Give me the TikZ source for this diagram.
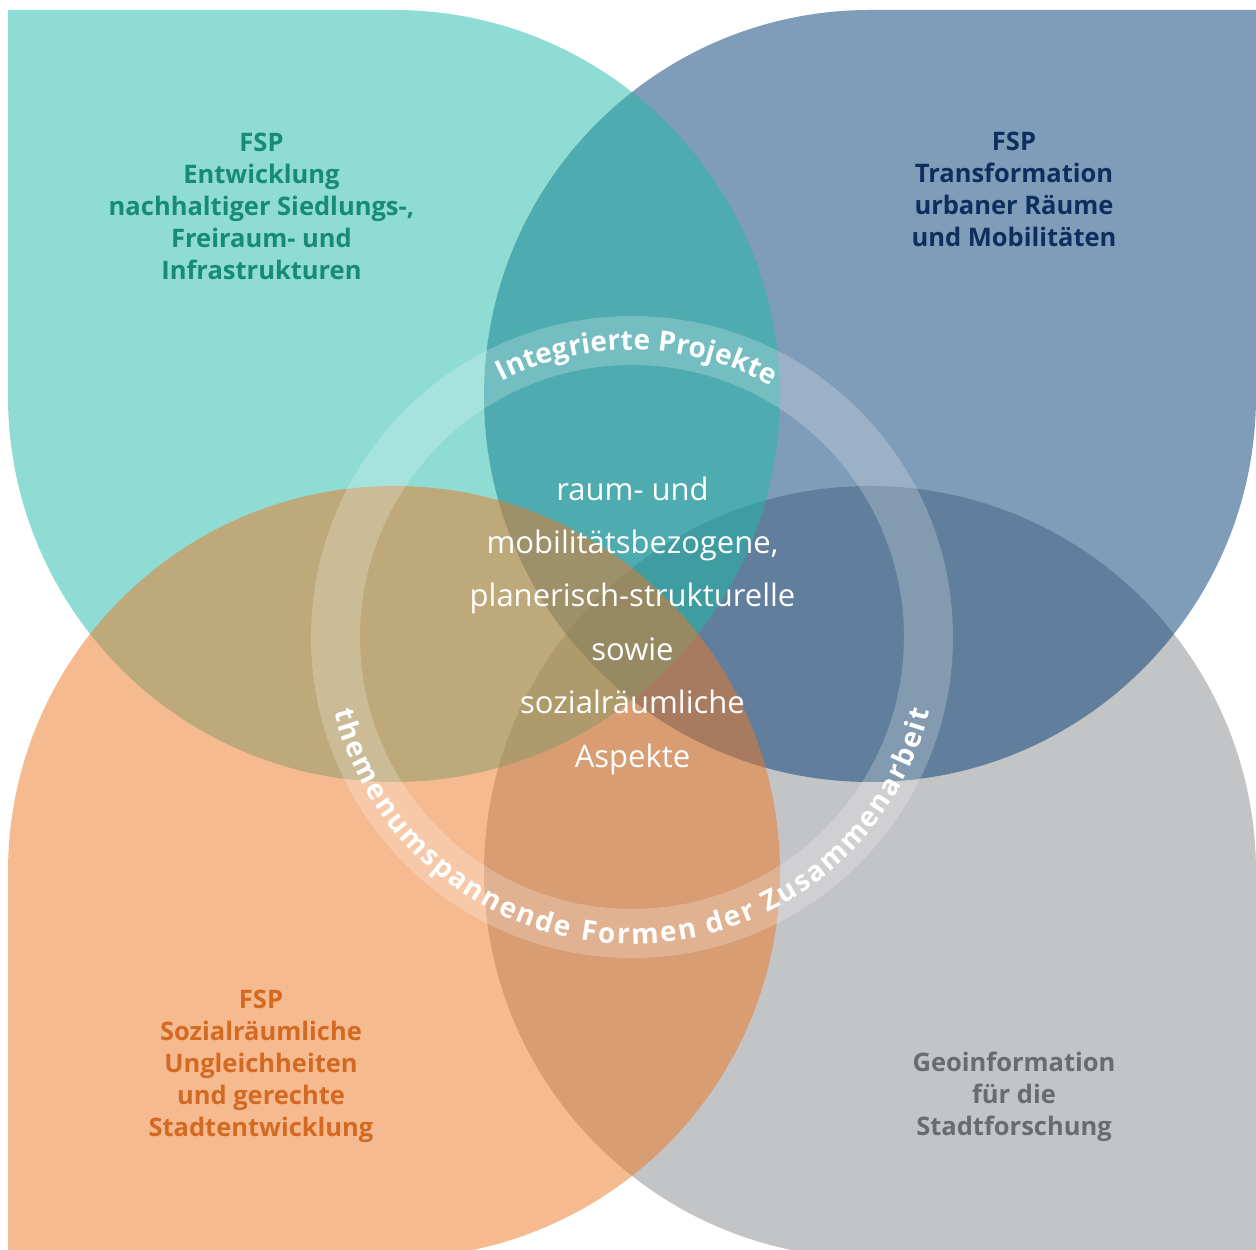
\documentclass[tikz,border=0pt]{standalone}
\usepackage{fontspec}
\setmainfont{Open Sans}
\usetikzlibrary{decorations.text}
\definecolor{tealbase}{RGB}{31,187,169}
\definecolor{bluebase}{RGB}{1,59,115}
\definecolor{orangebase}{RGB}{239,119,35}
\definecolor{graybase}{RGB}{137,139,143}
\definecolor{tealtext}{RGB}{24,138,120}
\definecolor{bluetext}{RGB}{14,46,94}
\definecolor{orangetext}{RGB}{212,106,34}
\definecolor{graytext}{RGB}{106,107,109}
\begin{document}
\begin{tikzpicture}[x=1pt,y=1pt,
  leaf/.style={fill opacity=0.5, draw=none},
  fsplabel/.style={align=center, font=\fontsize{25.5}{32}\selectfont\bfseries, inner sep=0pt},
  centertext/.style={align=center, text=white, font=\fontsize{31}{53.4}\selectfont, inner sep=0pt}]
\useasboundingbox (0,0) rectangle (1256,1250);
\fill[white] (0,0) rectangle (1256,1250);
\begin{scope}
\clip (0,0) rectangle (1256,1250);
% gray (bottom right)
\fill[leaf, fill=graybase] (1256,-8) -- (1256,378) arc[start angle=0, end angle=270, radius=386] -- cycle;
% blue (top right)
\fill[leaf, fill=bluebase] (1256,1240) -- (870,1240) arc[start angle=90, end angle=360, radius=386] -- cycle;
% teal (top left)
\fill[leaf, fill=tealbase] (8,1240) -- (394,1240) arc[start angle=90, end angle=-180, radius=386] -- cycle;
% orange (bottom left)
\fill[leaf, fill=orangebase] (8,-8) -- (8,378) arc[start angle=180, end angle=-90, radius=386] -- cycle;
\end{scope}
% ring
\coordinate (rc) at (632,613);
\fill[white, fill opacity=0.22, even odd rule] (rc) circle[radius=321] (rc) circle[radius=272];
% ring texts
\path[decorate, decoration={text along path, text={|\fontsize{28}{32}\selectfont\bfseries\color{white}|Integrierte Projekte}, text align=fit to path}]
  (rc) ++(117:287) arc[start angle=117, end angle=61, radius=287];
\path[decorate, decoration={text along path, text={|\fontsize{28}{32}\selectfont\bfseries\color{white}|themenumspannende Formen der Zusammenarbeit}, text align=fit to path}]
  (rc) ++(194:307) arc[start angle=194, end angle=346, radius=307];
% centre text
\node[centertext] (ctr) at (632.5,624.5) {raum- und\\mobilitätsbezogene,\\planerisch-strukturelle\\sowie\\sozialräumliche\\Aspekte};
% labels
\node[fsplabel, text=tealtext] (tl) at (261.5,1044) {FSP\\Entwicklung\\nachhaltiger Siedlungs-,\\Freiraum- und\\Infrastrukturen};
\node[fsplabel, text=bluetext] (bl) at (1014,1060.3) {FSP\\Transformation\\urbaner Räume\\und Mobilitäten};
\node[fsplabel, text=orangetext] (ol) at (261,183.7) {FSP\\Sozialräumliche\\Ungleichheiten\\und gerechte\\Stadtentwicklung};
\node[fsplabel, text=graytext] (gl) at (1014,153.3) {Geoinformation\\für die\\Stadtforschung};
\end{tikzpicture}
\end{document}
